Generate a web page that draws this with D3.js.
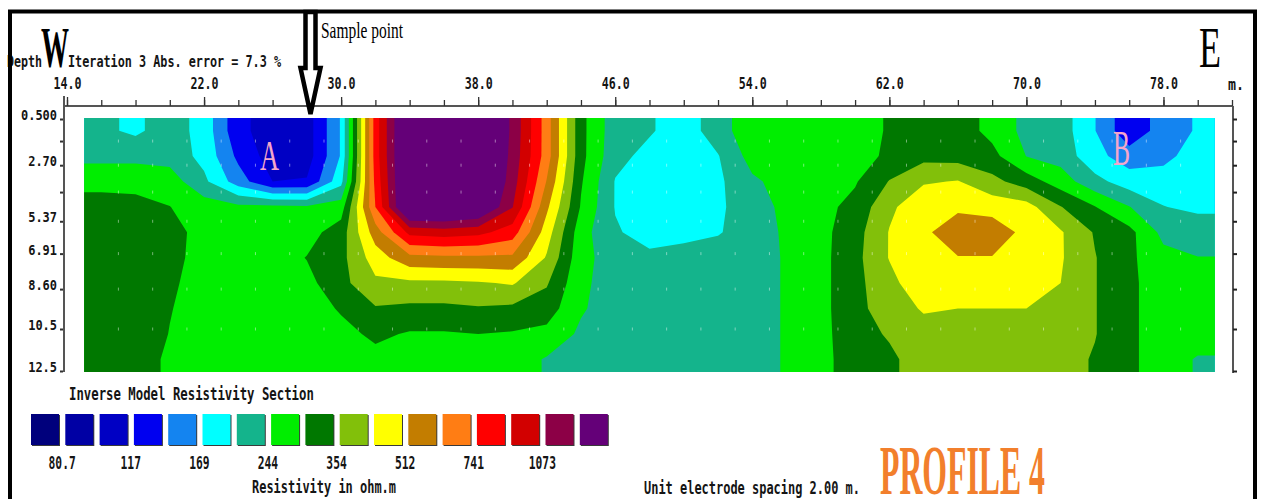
<!DOCTYPE html>
<html>
<head>
<meta charset="utf-8">
<title>Inverse Model Resistivity Section - Profile 4</title>
<script src="https://cdn.jsdelivr.net/npm/d3@7"></script>
<style>
  body { margin: 0; background: #fff; }
  svg { display: block; }
</style>
</head>
<body>
<svg id="chart"></svg>
<script>
//Distance axis labels (m)
var xTicks = [14, 22, 30, 38, 46, 54, 62, 70, 78];

//Model layer depths (m), and the ones that get a label
var layerDepths = [0.5, 1.55, 2.70, 3.98, 5.37, 6.91, 8.60, 10.5, 12.5];
var labeledDepths = [0.5, 2.70, 5.37, 6.91, 8.60, 10.5, 12.5];
var depthLabels = ["0.500", "2.70", "5.37", "6.91", "8.60", "10.5", "12.5"];

//Colour scale of the section (ohm.m)
var legendLevels = [80.7, 97.1, 117, 141, 169, 203, 244, 294, 354, 426, 512, 616, 741, 892, 1073, 1291];
var legendLabels = ["80.7", "117", "169", "244", "354", "512", "741", "1073"];
var legendColors = ["#00007c", "#0000a4", "#0000c4", "#0000f0", "#1484f0", "#00ffff", "#14b48c", "#00ee00",
    "#007800", "#82c00a", "#ffff00", "#c37d00", "#ff7d14", "#ff0000", "#d20000", "#8c0046", "#640078"];

var resistivity = [
    [211, 196, 223, 189, 123, 107, 107, 172, 813, 1870, 1870, 1870, 1244, 676, 311, 219, 207, 185, 223, 278, 278, 268, 268, 300, 323, 323, 278, 231, 223, 170, 123, 154, 172],
    [231, 231, 227, 192, 135, 107, 107, 172, 813, 1870, 1870, 1870, 1221, 676, 311, 215, 192, 185, 201, 263, 273, 268, 271, 305, 335, 329, 311, 243, 227, 179, 154, 160, 185],
    [278, 278, 268, 211, 154, 117, 119, 192, 784, 1870, 1870, 1870, 1177, 610, 300, 201, 185, 185, 196, 236, 263, 273, 289, 357, 418, 430, 374, 323, 268, 215, 185, 185, 185],
    [317, 311, 295, 268, 255, 255, 250, 268, 741, 1870, 1870, 1704, 1083, 532, 289, 201, 185, 185, 196, 227, 254, 278, 311, 410, 485, 494, 476, 459, 357, 296, 246, 204, 196],
    [335, 335, 323, 268, 268, 268, 273, 323, 562, 943, 978, 943, 813, 467, 263, 207, 189, 189, 200, 223, 251, 278, 329, 430, 494, 572, 572, 485, 434, 348, 311, 231, 223],
    [335, 335, 317, 268, 268, 268, 296, 335, 467, 583, 594, 594, 594, 418, 259, 223, 211, 223, 223, 223, 249, 278, 335, 430, 494, 508, 508, 485, 434, 357, 305, 259, 245],
    [335, 335, 305, 268, 268, 268, 278, 335, 410, 410, 410, 418, 434, 361, 254, 223, 223, 223, 223, 223, 249, 278, 335, 403, 485, 485, 476, 467, 426, 357, 305, 268, 268],
    [335, 335, 297, 268, 268, 268, 268, 300, 348, 341, 341, 348, 341, 323, 249, 223, 223, 223, 223, 223, 249, 278, 335, 388, 434, 426, 426, 426, 410, 357, 305, 268, 268],
    [335, 335, 292, 268, 268, 268, 268, 278, 305, 289, 289, 294, 289, 278, 236, 223, 223, 223, 223, 223, 249, 278, 329, 361, 396, 396, 388, 388, 388, 357, 305, 268, 268],
    [335, 323, 284, 268, 268, 268, 268, 268, 278, 268, 268, 268, 268, 240, 227, 223, 223, 223, 223, 223, 249, 278, 323, 341, 388, 388, 388, 388, 381, 348, 305, 268, 240]
];

//Page size
var svgWidth = 1261;
var svgHeight = 499;

var mono = "'DejaVu Sans Mono', 'Liberation Mono', monospace";
var serif = "'Liberation Serif', 'DejaVu Serif', serif";

var svg = d3.select("#chart")
    .attr("width", svgWidth)
    .attr("height", svgHeight);

//Distance and depth scales
var x = d3.scaleLinear().domain([14, 82]).range([67, 1232]);
var y = d3.scaleLinear().domain([0.5, 12.5]).range([119, 371]);

//Grid of the section: 2 m columns starting at 15 m, rows between 0.45 and 12.55 m
var nx = resistivity[0].length;
var ny = resistivity.length;
var colX = d3.scaleLinear().domain([0, nx]).range([x(15), x(15 + 2 * nx)]);
var rowY = d3.scaleLinear().domain([0, ny]).range([y(0.45), y(12.55)]);

//Text in the old DOS screen font: narrow and bold
function dosText(g, str, px, py, charW, size, anchor) {
    return g.append("text")
        .attr("x", px)
        .attr("y", py)
        .attr("font-family", mono)
        .attr("font-weight", "bold")
        .attr("font-size", size)
        .attr("text-anchor", anchor || "start")
        .attr("textLength", str.length * charW)
        .attr("lengthAdjust", "spacingAndGlyphs")
        .attr("fill", "#151515")
        .text(str);
}

function serifText(g, str, px, py, size, width, color, weight) {
    return g.append("text")
        .attr("x", px)
        .attr("y", py)
        .attr("font-family", serif)
        .attr("font-weight", weight || "normal")
        .attr("font-size", size)
        .attr("textLength", width)
        .attr("lengthAdjust", "spacingAndGlyphs")
        .attr("fill", color)
        .text(str);
}

//Contour the section on log resistivity.
//The grid gets one repeated cell all round so the contours fill the corners.
var values = [];
for (var j = -1; j <= ny; j++) {
    var row = resistivity[Math.max(0, Math.min(ny - 1, j))];
    for (var i = -1; i <= nx; i++) {
        values.push(Math.log10(row[Math.max(0, Math.min(nx - 1, i))]));
    }
}
var contours = d3.contours()
    .size([nx + 2, ny + 2])
    .thresholds(legendLevels.map(function (v) { return Math.log10(v); }))(values);

var gridPath = d3.geoPath(d3.geoTransform({
    point: function (gx, gy) { this.stream.point(colX(gx - 1), rowY(gy - 1)); }
}));

svg.append("clipPath")
    .attr("id", "sectionClip")
    .append("rect")
    .attr("x", colX(0))
    .attr("y", rowY(0))
    .attr("width", colX(nx) - colX(0))
    .attr("height", rowY(ny) - rowY(0));

var section = svg.append("g").attr("clip-path", "url(#sectionClip)");
section.append("rect")
    .attr("x", colX(0))
    .attr("y", rowY(0))
    .attr("width", colX(nx) - colX(0))
    .attr("height", rowY(ny) - rowY(0))
    .attr("fill", legendColors[0]);
section.selectAll("path")
    .data(contours)
    .enter()
    .append("path")
    .attr("d", gridPath)
    .attr("fill", function (d, i) { return legendColors[i + 1]; });

//Datum point marks
svg.append("g")
    .selectAll("rect")
    .data(d3.cross(d3.range(17, 80, 2), layerDepths.slice(1, 8)))
    .enter()
    .append("rect")
    .attr("x", function (d) { return x(d[0]) - 0.5; })
    .attr("y", function (d) { return y(d[1]) - 1.5; })
    .attr("width", 1)
    .attr("height", 3)
    .attr("fill", "#ffffff")
    .attr("opacity", 0.45);

//Top axis: minor ticks every 2 m, labelled ticks every 8 m
var axisY = 106;
svg.append("line")
    .attr("x1", 64).attr("x2", 1233)
    .attr("y1", axisY).attr("y2", axisY)
    .attr("stroke", "#555").attr("stroke-width", 2);

var minorAxis = svg.append("g")
    .attr("transform", "translate(0," + axisY + ")")
    .call(d3.axisTop(x).tickValues(d3.range(14, 83, 2)).tickSize(6).tickSizeOuter(0).tickFormat(""));
var majorAxis = svg.append("g")
    .attr("transform", "translate(0," + axisY + ")")
    .call(d3.axisTop(x).tickValues(xTicks).tickSize(9).tickSizeOuter(0).tickPadding(8).tickFormat(d3.format(".1f")));
[minorAxis, majorAxis].forEach(function (a) {
    a.select(".domain").remove();
    a.selectAll(".tick line").attr("stroke", "#333").attr("stroke-width", 1.3);
});
majorAxis.selectAll(".tick text")
    .attr("font-family", mono)
    .attr("font-weight", "bold")
    .attr("font-size", 16.5)
    .attr("fill", "#151515")
    .attr("textLength", function (d) { return d3.format(".1f")(d).length * 7; })
    .attr("lengthAdjust", "spacingAndGlyphs");
dosText(svg, "m.", 1228, 90, 8, 16.5);

//Depth axis on the left
svg.append("line")
    .attr("x1", 64).attr("x2", 64)
    .attr("y1", 96).attr("y2", 372)
    .attr("stroke", "#555").attr("stroke-width", 2);
var leftAxis = svg.append("g")
    .attr("transform", "translate(63,0)")
    .call(d3.axisLeft(y).tickValues(layerDepths).tickSize(3).tickPadding(3)
        .tickFormat(function (d) {
            var k = labeledDepths.indexOf(d);
            return k < 0 ? "" : depthLabels[k];
        }));
leftAxis.select(".domain").remove();
leftAxis.selectAll(".tick line").attr("stroke", "#333").attr("stroke-width", 2);
leftAxis.selectAll(".tick text")
    .attr("dy", "0.05em")
    .attr("font-family", mono)
    .attr("font-weight", "bold")
    .attr("font-size", 14)
    .attr("fill", "#151515")
    .attr("textLength", function (d) {
        var k = labeledDepths.indexOf(d);
        return k < 0 ? 0 : depthLabels[k].length * 7.2;
    })
    .attr("lengthAdjust", "spacingAndGlyphs");

//Depth ticks on the right
svg.append("line")
    .attr("x1", 1233).attr("x2", 1233)
    .attr("y1", axisY).attr("y2", 373)
    .attr("stroke", "#555").attr("stroke-width", 2);
var rightAxis = svg.append("g")
    .attr("transform", "translate(1233,0)")
    .call(d3.axisRight(y).tickValues(layerDepths).tickSize(4).tickFormat(""));
rightAxis.select(".domain").remove();
rightAxis.selectAll(".tick line").attr("stroke", "#222").attr("stroke-width", 2);

//Header
dosText(svg, "Depth", 7, 67, 7, 16.5);
dosText(svg, "Iteration 3 Abs. error = 7.3 %", 68, 67, 7.1, 16.5);
serifText(svg, "W", 41, 67, 58, 28, "#000", "bold");
serifText(svg, "E", 1199, 67, 56, 22, "#000", "normal");
serifText(svg, "Sample point", 321, 38, 23, 82, "#000", "normal");

//Sample point arrow
svg.append("path")
    .attr("d", "M305.5,12 L315.5,12 L315.5,68 L320.5,68 L310.5,114 L300.5,68 L305.5,68 Z")
    .attr("fill", "#fff")
    .attr("stroke", "#000")
    .attr("stroke-width", 4.5)
    .attr("stroke-linejoin", "miter");

//Anomaly labels
serifText(svg, "A", 260, 170, 42, 19, "#f4a6cb", "normal");
serifText(svg, "B", 1113, 165, 50, 17, "#f4a6cb", "normal");

//Legend
var legend = svg.append("g");
dosText(legend, "Inverse Model Resistivity Section", 69, 400, 7.42, 17);
var boxX = 31, boxPitch = 34.3, boxW = 28, boxY = 414, boxH = 31;
legend.selectAll("rect.shade")
    .data(legendColors)
    .enter()
    .append("rect")
    .attr("class", "shade")
    .attr("x", function (d, i) { return boxX + i * boxPitch + 1; })
    .attr("y", boxY + 1)
    .attr("width", boxW)
    .attr("height", boxH)
    .attr("fill", "#3a3a3a");
legend.selectAll("rect.box")
    .data(legendColors)
    .enter()
    .append("rect")
    .attr("class", "box")
    .attr("x", function (d, i) { return boxX + i * boxPitch; })
    .attr("y", boxY)
    .attr("width", boxW)
    .attr("height", boxH)
    .attr("fill", function (d) { return d; });
legendLabels.forEach(function (t, i) {
    var cx = boxX + (2 * i + 1) * boxPitch - (boxPitch - boxW) / 2;
    dosText(legend, t, cx, 469, 6.8, 17, "middle");
});
dosText(legend, "Resistivity in ohm.m", 252, 493, 7.2, 17);
dosText(svg, "Unit electrode spacing 2.00 m.", 644, 494, 7.2, 17);

serifText(svg, "PROFILE 4", 880, 494, 70, 165, "#f27f2c", "bold");

//Outer frame
svg.append("rect")
    .attr("x", 10)
    .attr("y", 11.5)
    .attr("width", 1245)
    .attr("height", 600)
    .attr("fill", "none")
    .attr("stroke", "#000")
    .attr("stroke-width", 4);
</script>
</body>
</html>
